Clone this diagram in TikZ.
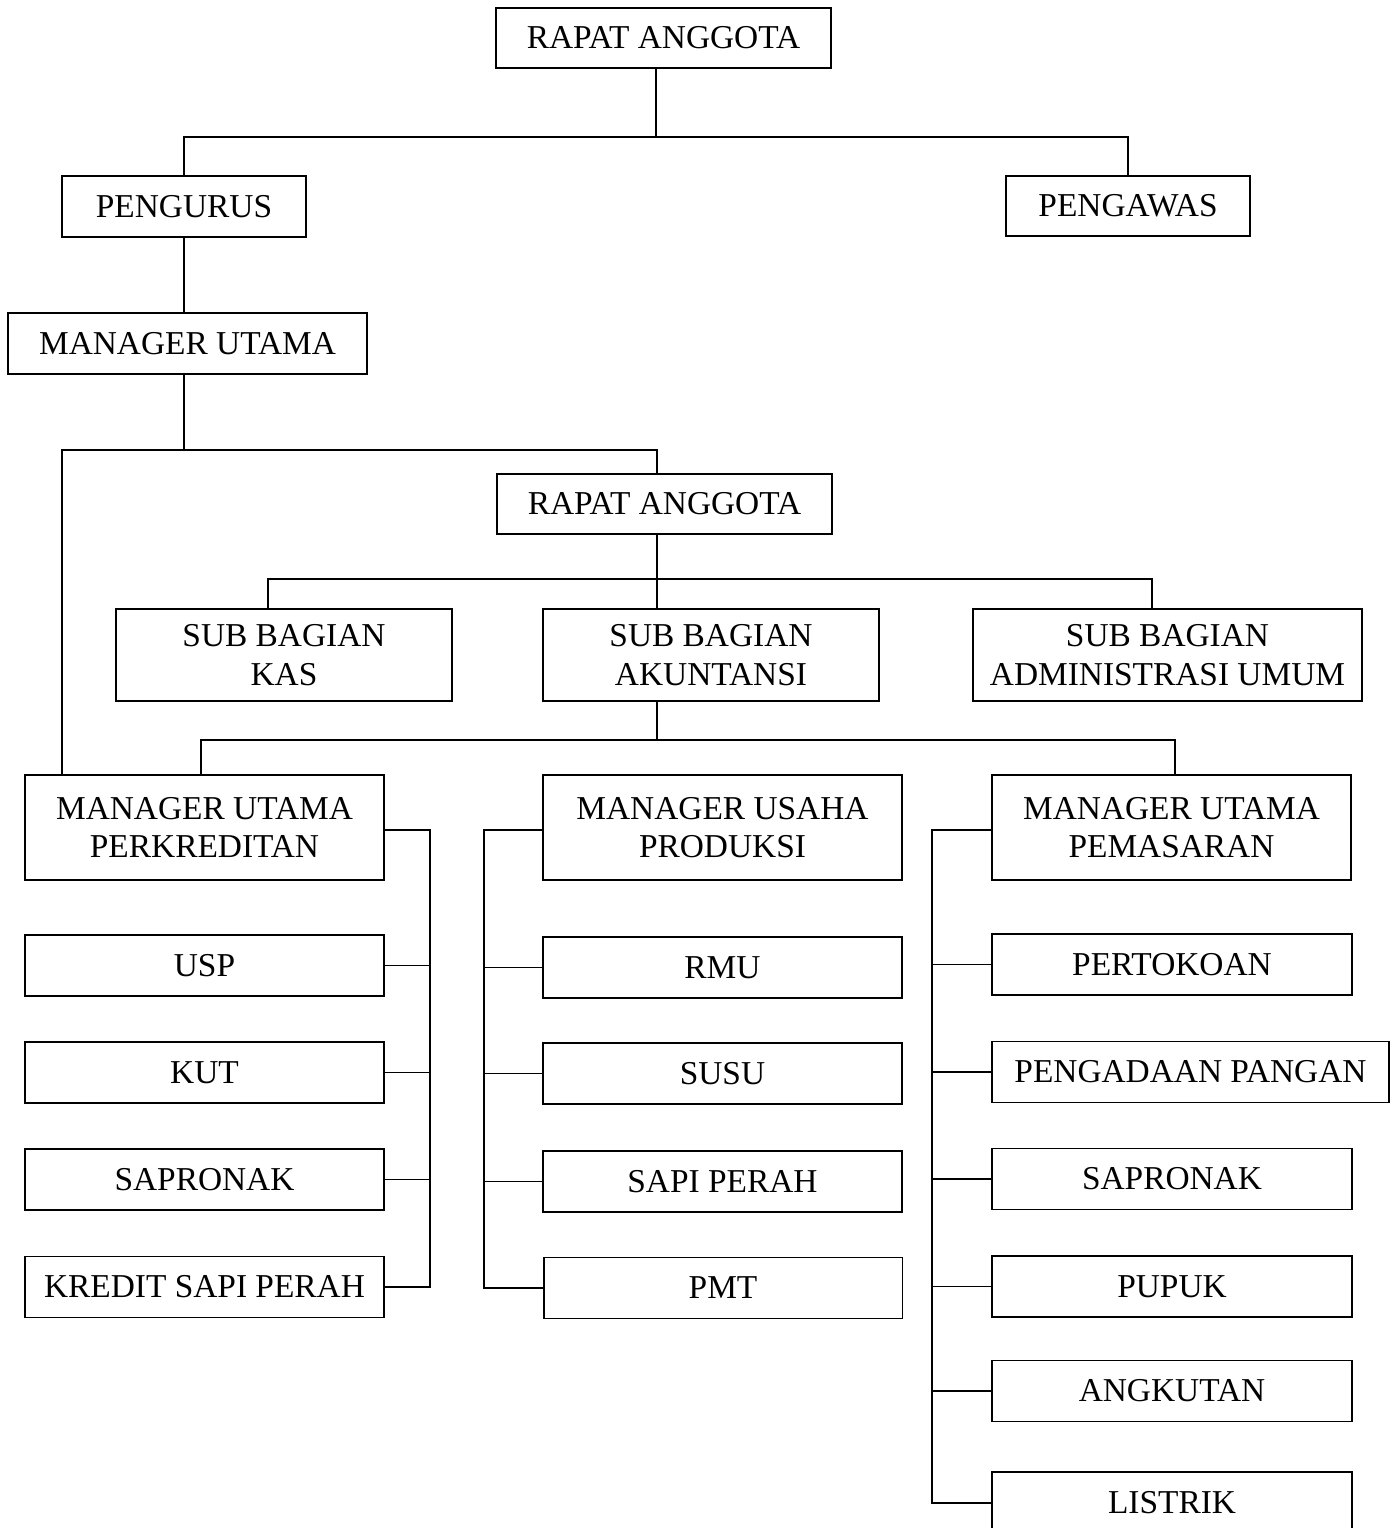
\documentclass[tikz,border=0pt]{standalone}
\usepackage{fontspec}
\setmainfont{Liberation Serif}
\usetikzlibrary{positioning}
\tikzset{box/.style = {draw, rectangle, inner sep=0pt, align=center,
                       font=\fontsize{19}{22}\selectfont,
                       minimum width=7.18cm, minimum height=1.22cm}}
\tikzset{every picture/.style={
    every path/.style={line width=1.1pt},
}}

\begin{document}
\begin{tikzpicture}[x=0.02cm, y=-0.02cm]

      \useasboundingbox (0,0) rectangle (1390,1528);

      % top level
      \node[box, minimum width=6.7cm, minimum height=1.2cm] (ra1) at (663.5,38) {RAPAT ANGGOTA};
      \node[box, minimum width=4.88cm] (pengurus) at (184,206.5) {PENGURUS};
      \node[box, minimum width=4.88cm, minimum height=1.2cm] (pengawas) at (1128,206) {PENGAWAS};
      \node[box] (mu) at (187.5,343.5) {MANAGER UTAMA};
      \node[box, minimum width=6.7cm, minimum height=1.2cm] (ra2) at (664.5,504) {RAPAT ANGGOTA};

      % sub bagian
      \node[box, minimum width=6.72cm, minimum height=1.84cm] (kas) at (284,655) {SUB BAGIAN\\KAS};
      \node[box, minimum width=6.72cm, minimum height=1.84cm] (akt) at (711,655) {SUB BAGIAN\\AKUNTANSI};
      \node[box, minimum width=7.78cm, minimum height=1.84cm] (adm) at (1167.5,655) {SUB BAGIAN\\ADMINISTRASI UMUM};

      % managers
      \node[box, minimum height=2.1cm] (mkr) at (204.5,827.5) {MANAGER UTAMA\\PERKREDITAN};
      \node[box, minimum height=2.1cm] (mup) at (722.5,827.5) {MANAGER USAHA\\PRODUKSI};
      \node[box, minimum height=2.1cm] (mpm) at (1171.5,827.5) {MANAGER UTAMA\\PEMASARAN};

      % perkreditan
      \node[box] (usp)  at (204.5,965.5)  {USP};
      \node[box] (kut)  at (204.5,1072.5) {KUT};
      \node[box] (sapl) at (204.5,1179.5) {SAPRONAK};
      \node[box] (ksp)  at (204.5,1287)   {KREDIT SAPI PERAH};

      % produksi
      \node[box] (rmu)  at (722.5,967.5)  {RMU};
      \node[box] (susu) at (722.5,1073.5) {SUSU};
      \node[box] (sapi) at (722.5,1181.5) {SAPI PERAH};
      \node[box] (pmt)  at (723,1288)     {PMT};

      % pemasaran
      \node[box, minimum width=7.2cm] (tok)  at (1172,964.5)  {PERTOKOAN};
      \node[box, minimum width=7.94cm] (pan) at (1190.5,1072) {PENGADAAN PANGAN};
      \node[box, minimum width=7.2cm] (sapr) at (1172,1179)   {SAPRONAK};
      \node[box, minimum width=7.2cm] (pup)  at (1172,1286.5) {PUPUK};
      \node[box, minimum width=7.2cm] (ang)  at (1172,1391)   {ANGKUTAN};
      \node[box, minimum width=7.2cm, minimum height=1.24cm] (lis) at (1172,1503) {LISTRIK};

      % junctions
      \coordinate (j1) at (656,137);
      \coordinate (j2) at (184,450);
      \coordinate (j2l) at (62,450);
      \coordinate (j2r) at (657,450);
      \coordinate (j3) at (657,579);
      \coordinate (j3l) at (268,579);
      \coordinate (j3r) at (1152,579);
      \coordinate (j4) at (657,740);
      \coordinate (j4l) at (201,740);
      \coordinate (j4r) at (1175,740);
      \coordinate (bl) at (430,830);
      \coordinate (bm) at (484,830);
      \coordinate (br) at (932,830);

      \draw (ra1.south -| j1) -- (j1);
      \draw (pengurus.north) |- (j1) -| (pengawas.north);
      \draw (pengurus.south) -- (pengurus.south |- mu.north);

      \draw (mu.south -| j2) -- (j2);
      \draw (j2l |- mkr.north) -- (j2l) -- (j2r) -- (j2r |- ra2.north);

      \draw (ra2.south -| j3) -- (akt.north -| j3);
      \draw (j3l |- kas.north) -- (j3l) -- (j3r) -- (j3r |- adm.north);

      \draw (akt.south -| j4) -- (j4);
      \draw (j4l |- mkr.north) -- (j4l) -- (j4r) -- (j4r |- mpm.north);

      \draw (bl -| mkr.east) -- (bl) |- (ksp.east);
      \foreach \n in {usp,kut,sapl}
        \draw (\n.east) -- (\n.east -| bl);

      \draw (bm -| mup.west) -- (bm) |- (pmt.west);
      \foreach \n in {rmu,susu,sapi}
        \draw (\n.west) -- (\n.west -| bm);

      \draw (br -| mpm.west) -- (br) |- (lis.west);
      \foreach \n in {tok,pan,sapr,pup,ang}
        \draw (\n.west) -- (\n.west -| br);

\end{tikzpicture}
\end{document}
